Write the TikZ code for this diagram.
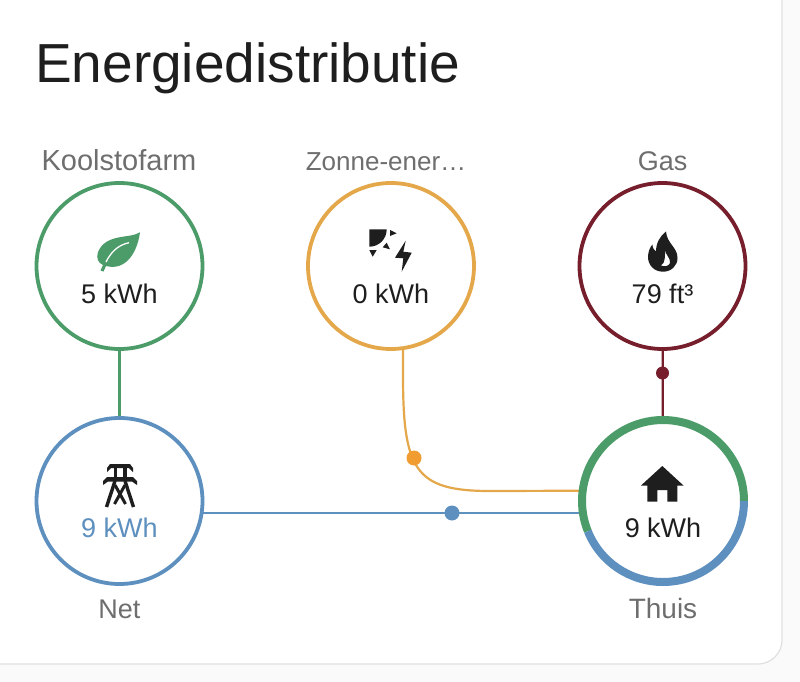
\documentclass[tikz,border=0pt]{standalone}
\usepackage{fontspec}
\setmainfont{Liberation Sans}
\usetikzlibrary{calc}
\definecolor{cgreen}{HTML}{4C9C69}
\definecolor{cblue}{HTML}{5D90BF}
\definecolor{corange}{HTML}{E4A84B}
\definecolor{cdot}{HTML}{F19C30}
\definecolor{cred}{HTML}{761E2C}
\definecolor{cgrey}{HTML}{6E6E6E}
\definecolor{cink}{HTML}{1E1E1E}
\tikzset{
  x=1pt,y=-1pt,
  ring/.style={circle,draw=#1,line width=3.8pt,fill=white,minimum size=166pt,inner sep=0pt,outer sep=0pt},
  flowline/.style={draw=#1,line width=2.2pt},
  flowdot/.style={circle,fill=#1,minimum size=15pt,inner sep=0pt,draw=none},
  title/.style={font=\fontsize{55}{55}\selectfont,text=cink,anchor=base west,inner sep=0pt},
  lab/.style={font=\fontsize{27}{27}\selectfont,text=cgrey,anchor=base,inner sep=0pt},
  val/.style={font=\fontsize{27}{27}\selectfont,text=cink,anchor=base,inner sep=0pt},
}
\begin{document}
\begin{tikzpicture}
\useasboundingbox (0,0) rectangle (800,682);
\fill[fill=white!98!black] (0,0) rectangle (800,682);
\draw[draw=black!12,fill=white,line width=1.2pt] (-20,-20) -- (782,-20) -- (782,640) arc[start angle=0,end angle=90,radius=24] -- (-20,664) -- cycle;

\node[title] (ttl) at (35,83) {Energiedistributie};

\coordinate (kc) at (119.5,266);
\coordinate (zc) at (391,266);
\coordinate (gc) at (662.5,266);
\coordinate (nc) at (119.5,501);
\coordinate (hc) at (663,501);

% connectors
\draw[flowline=cgreen] (kc) -- (nc);
\draw[flowline=cred] (gc) -- (hc);
\draw[flowline=cblue] ($(nc)+(0,12)$) -- ($(hc)+(0,12)$);
\draw[flowline=corange] ($(zc)+(12,0)$) -- (403,375) .. controls (403,470) and (415,491) .. (490,491) -- ($(hc)+(0,-10.5)$);

% circles
\node[ring=cgreen] (koolstof) at (kc) {};
\node[ring=corange] (zonne) at (zc) {};
\node[ring=cred] (gas) at (gc) {};
\node[ring=cblue] (net) at (nc) {};
\node[circle,fill=white,minimum size=162pt,inner sep=0pt] (thuis) at (hc) {};
\begin{scope}[shift={(663,501)}]
  \draw[cgreen,line width=8pt] (81,0) arc[start angle=0,end angle=-202,radius=81];
  \draw[cblue,line width=8pt] (81,0) arc[start angle=0,end angle=158,radius=81];
\end{scope}

% dots
\node[flowdot=cdot] (dotsolar) at (414,458) {};
\node[flowdot=cblue] (dotnet) at (452,513) {};
\node[flowdot=cred,minimum size=13pt] (dotgas) at (662.5,373) {};

% labels
\node[lab,font=\fontsize{29}{29}\selectfont] (l1) at (119,170) {Koolstofarm};
\node[lab,font=\fontsize{26}{26}\selectfont] (l2) at (386,170) {Zonne-ener…};
\node[lab] (l3) at (662.5,170) {Gas};
\node[lab] (l4) at (119.5,618) {Net};
\node[lab,font=\fontsize{28}{28}\selectfont] (l5) at (663,618) {Thuis};

% values
\node[val] (v1) at (119.5,303) {5 kWh};
\node[val] (v2) at (391,303) {0 kWh};
\node[val] (v3) at (662.5,303) {79 ft³};
\node[val,text=cblue] (v4) at (119.5,537) {9 kWh};
\node[val] (v5) at (663,537) {9 kWh};

% leaf
\fill[cgreen] (140,232.3) .. controls (130,239) and (106,233) .. (98,252) .. controls (96,258) and (98,263) .. (103,265) -- (100.5,270.5) -- (103.5,271.5) -- (106,266) .. controls (125,271) and (137,254) .. cycle;
\draw[white,line width=1.3pt] (106,262) .. controls (111,252) and (118,245) .. (129,242.7);

% solar
\fill[cink] (369.3,229.3) -- (386.7,229.3) .. controls (386.7,239) and (379,246.7) .. (369.3,246.7) -- cycle;
\fill[cink] (390,230) -- (396.7,233.3) -- (390,236) -- cycle;
\fill[cink] (382.7,247.3) -- (386.7,242.7) -- (390,249.3) -- cycle;
\fill[cink] (369.3,250) -- (376.7,250) -- (372.7,256.7) -- cycle;
\fill[cink] (405.7,240.7) -- (403.3,251.7) -- (411.7,252.7) -- (401.7,271.7) -- (403.3,258.3) -- (395,257.7) -- cycle;

% flame
\fill[cink,even odd rule] (666,231.5) .. controls (667,244) and (677.5,247) .. (677.5,258) .. controls (677.5,266) and (671,271.7) .. (663,271.7) .. controls (654,271.7) and (648,265) .. (648,257) .. controls (648,252) and (650,247) .. (652.5,244.5) .. controls (652.5,248) and (654,250) .. (656,251.5) .. controls (656,243) and (660,236) .. (666,231.5) -- cycle
(665,249) .. controls (665,255) and (671,258) .. (670,263) .. controls (669,266) and (665,267) .. (661,265.5) .. controls (665.5,263) and (665,256) .. (665,249) -- cycle;

% pylon
\begin{scope}[cink]
  \fill (110,464) -- (130,464) -- (133,468) -- (133,472) -- (129,468) -- (111,468) -- (107,472) -- (107,468) -- cycle;
  \fill (107,477) -- (133,477) -- (137,481) -- (137,485) -- (132,481.5) -- (108,481.5) -- (103,485) -- (103,481) -- cycle;
  \fill (113.5,467) rectangle (117,478);
  \fill (123,467) rectangle (126.5,478);
  \draw[line width=3.4pt] (115,481) -- (106.5,507) (125,481) -- (133.5,507);
  \draw[line width=3pt] (115,485) -- (125.5,504) (125,485) -- (114.5,504);
\end{scope}

% house
\fill[cink] (662.3,466) -- (683.5,485.5) -- (677.3,485.5) -- (677.3,501.7) -- (667.3,501.7) -- (667.3,490) -- (657.3,490) -- (657.3,501.7) -- (647.3,501.7) -- (647.3,485.5) -- (641,485.5) -- cycle;
\end{tikzpicture}
\end{document}
